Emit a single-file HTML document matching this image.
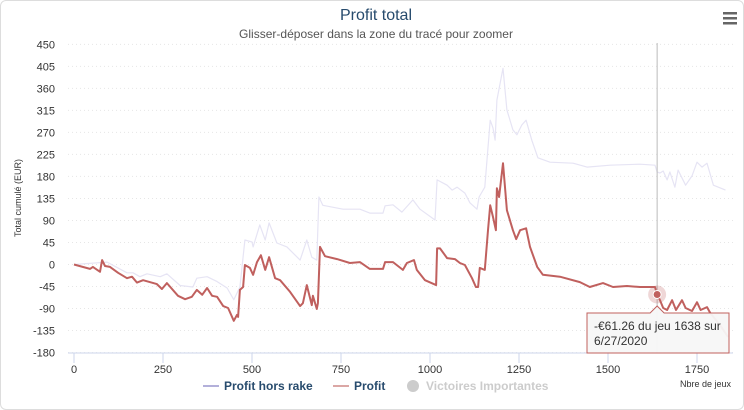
<!DOCTYPE html>
<html><head><meta charset="utf-8">
<style>
html,body{margin:0;padding:0;background:#fff;}
body{width:744px;height:410px;overflow:hidden;font-family:"Liberation Sans",sans-serif;}
#wrap{position:absolute;left:0;top:0;width:742px;height:408px;border:1px solid #ddd;border-radius:6px;}
</style></head>
<body>
<div id="wrap">
<svg id="chart" width="744" height="410" xmlns="http://www.w3.org/2000/svg" style="position:absolute;left:-1px;top:-1px">
  <text x="376" y="20" text-anchor="middle" font-size="16" fill="#274b6d" textLength="72" lengthAdjust="spacingAndGlyphs">Profit total</text>
  <text x="376" y="38" text-anchor="middle" font-size="12" fill="#555" textLength="274" lengthAdjust="spacingAndGlyphs">Glisser-déposer dans la zone du tracé pour zoomer</text>
  <g>
    <rect x="723" y="12" width="14" height="2.5" fill="#666"/>
    <rect x="723" y="17" width="14" height="2.5" fill="#666"/>
    <rect x="723" y="22" width="14" height="2.5" fill="#666"/>
  </g>
  <text transform="translate(21,198) rotate(-90)" text-anchor="middle" font-size="9" fill="#333">Total cumulé (EUR)</text>
  <g id="grid"></g>
  <g id="yticks"></g>
  <g id="xticks"></g>
  <line x1="68" y1="353" x2="733" y2="353" stroke="#ccd6eb"/>
  <text x="731" y="387" text-anchor="end" font-size="9" fill="#333">Nbre de jeux</text>
  <g id="series"></g>
  <g id="tooltip-layer"></g>
  <g>
    <g>
      <line x1="203" y1="386" x2="219" y2="386" stroke="#b3b0da" stroke-width="2"/>
      <text x="224" y="390" font-size="12" font-weight="bold" fill="#274b6d">Profit hors rake</text>
    </g>
    <g>
      <line x1="333" y1="386" x2="349" y2="386" stroke="#dba7a5" stroke-width="2"/>
      <text x="354" y="390" font-size="12" font-weight="bold" fill="#274b6d">Profit</text>
    </g>
    <g>
      <circle cx="413" cy="386" r="6" fill="#ccc"/>
      <text x="426" y="390" font-size="12" font-weight="bold" fill="#ccc">Victoires Importantes</text>
    </g>
  </g>
</svg>
</div>
<script>
const yTicks = [450,405,360,315,270,225,180,135,90,45,0,-45,-90,-135,-180];
const xTicks = [0,250,500,750,1000,1250,1500,1750];
const profitGames = [0,45,53,73,79,87,101,124,149,163,177,194,233,247,261,292,312,331,345,360,374,388,402,419,433,449,458,461,466,475,480,494,503,514,525,537,548,565,579,607,635,643,654,668,671,682,685,691,705,739,775,803,831,868,874,896,924,935,955,963,986,1017,1020,1028,1048,1070,1084,1098,1118,1129,1135,1140,1154,1163,1169,1177,1185,1188,1194,1205,1216,1233,1242,1253,1270,1281,1301,1317,1365,1421,1449,1486,1514,1553,1590,1632,1638,1646,1655,1666,1680,1691,1708,1718,1736,1750,1760,1778,1787,1815,1837];
const profitValues = [0,-9,-5,-15,9,-3,-5,-17,-28,-25,-37,-32,-40,-50,-38,-64,-71,-66,-52,-62,-48,-64,-66,-85,-89,-115,-103,-107,-52,-46,-1,-7,-21,5,19,-11,15,-28,-32,-56,-85,-79,-42,-83,-64,-91,-79,36,17,11,3,5,-9,-9,5,5,-11,3,9,-11,-32,-42,33,33,13,11,3,-1,-28,-46,-46,-7,-11,70,121,97,70,156,138,207,111,70,52,70,74,36,-5,-21,-25,-36,-46,-38,-46,-44,-46,-46,-61.26,-73,-89,-93,-73,-93,-73,-89,-95,-77,-93,-87,-99,-124,-148];
const horsRakeGames = [0,93,149,166,185,205,242,261,298,334,345,374,402,430,449,466,480,500,503,522,537,548,570,598,635,654,668,682,688,699,756,803,831,868,874,896,921,952,972,1014,1020,1048,1062,1076,1098,1112,1132,1138,1154,1169,1177,1183,1188,1205,1216,1233,1244,1258,1270,1286,1303,1337,1402,1441,1506,1590,1632,1638,1646,1655,1666,1674,1688,1697,1718,1736,1750,1764,1778,1796,1830];
const horsRakeValues = [0,5,-17,-17,-25,-19,-25,-19,-43,-46,-28,-25,-35,-48,-72,-46,50,46,36,81,50,85,44,36,9,50,15,9,138,121,113,113,105,105,120,122,107,132,113,91,173,162,152,158,146,126,113,138,158,295,279,254,336,401,316,275,265,285,295,254,218,209,207,199,203,205,203,189,187,191,173,189,158,193,162,181,209,199,207,162,152];
const hover = {game:1638, value:-61.26, date:"6/27/2020"};

const NS="http://www.w3.org/2000/svg";
const X0=74, XS=0.356, Y0=264.5, YS=0.4893;
function xs(v){return X0+v*XS;}
function ys(v){return Y0-v*YS;}
function mk(tag,attrs,parent){const e=document.createElementNS(NS,tag);for(const k in attrs)e.setAttribute(k,attrs[k]);parent.appendChild(e);return e;}

const grid=document.getElementById('grid'), yt=document.getElementById('yticks'), xt=document.getElementById('xticks');
yTicks.forEach(t=>{
  const l=mk('line',{x1:68,x2:733,y1:ys(t),y2:ys(t),stroke:'#e6e6e6','stroke-dasharray':'1,3'},grid);
  
  
  const tx=mk('text',{x:55,y:ys(t)+4,'text-anchor':'end','font-size':11,fill:'#333'},yt);
  tx.textContent=t;
  
  
});
xTicks.forEach(t=>{
  const l=mk('line',{x1:xs(t),x2:xs(t),y1:353,y2:363,stroke:'#ccd6eb'},xt);
  
  
  const tx=mk('text',{x:xs(t),y:373,'text-anchor':'middle','font-size':11,fill:'#333'},xt);
  tx.textContent=t;
  
  
});
const ser=document.getElementById('series');
function path(g,v){return g.map((x,i)=>(i?'L':'M')+xs(x).toFixed(1)+','+ys(v[i]).toFixed(1)).join('');}
const p1=mk('path',{d:path(horsRakeGames,horsRakeValues),fill:'none',stroke:'#e6e4f4','stroke-width':1.2,'stroke-linejoin':'round'},ser);


const p2=mk('path',{d:path(profitGames,profitValues),fill:'none',stroke:'#c0605e','stroke-width':2,'stroke-linejoin':'round'},ser);



const tl=document.getElementById('tooltip-layer');
const hx=xs(hover.game), hy=ys(hover.value);
const ch=mk('line',{x1:hx,x2:hx,y1:43,y2:353,stroke:'#bbb','stroke-width':1},tl);


const halo=mk('circle',{cx:hx,cy:hy,r:9,fill:'#c0605e','fill-opacity':0.25},tl);


const mkr=mk('circle',{cx:hx,cy:hy,r:4,fill:'#c0605e',stroke:'#fff','stroke-width':1},tl);


const tb=mk('path',{d:`M587,313 L${hx-7},313 L${hx},306 L${hx+7},313 L729,313 L729,353 L587,353 Z`,fill:'#f7f7f7','fill-opacity':0.95,stroke:'#c0605e','stroke-width':1},tl);


const t1=mk('text',{x:594,y:330,'font-size':12,fill:'#333'},tl);
t1.textContent='-€'+Math.abs(hover.value).toFixed(2)+' du jeu '+hover.game+' sur';


const t2=mk('text',{x:594,y:345,'font-size':12,fill:'#333'},tl);
t2.textContent=hover.date;


</script>
</body></html>
